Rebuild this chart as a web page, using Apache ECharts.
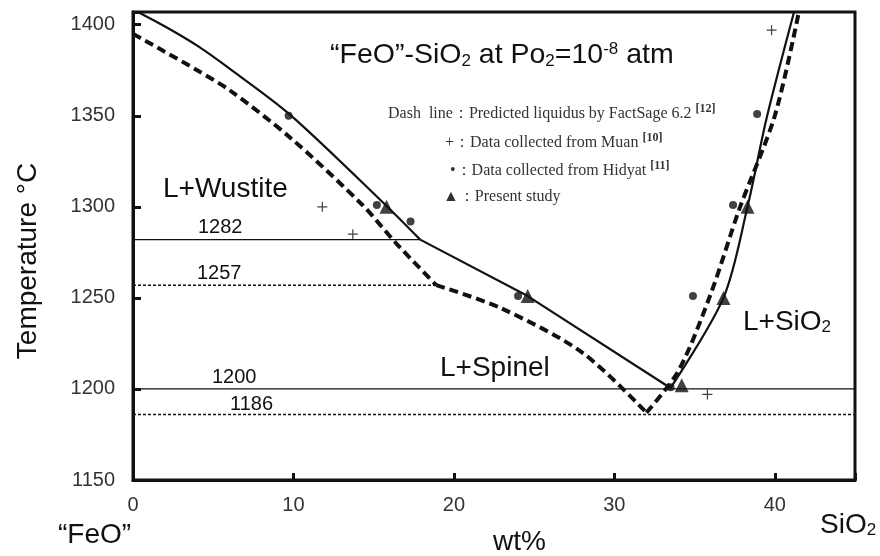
<!DOCTYPE html>
<html><head><meta charset="utf-8">
<script src="https://cdn.jsdelivr.net/npm/echarts@6/dist/echarts.min.js"></script>
<style>html,body{margin:0;padding:0;background:#fff}#c{width:880px;height:556px}</style>
</head><body><div id="c"></div>
<script>
// ---- data ----
const xTickLabels = [0, 10, 20, 30, 40];
const yTickLabels = [1150, 1200, 1250, 1300, 1350, 1400];
// solid liquidus (measured), by branch
const measuredWustite = [[0.3,1407],[2.0,1399],[4.0,1388.5],[6.0,1376],[9.8,1350.5],[15.8,1300.5],[17.9,1282]];
const measuredSpinel = [[17.9,1282],[24.6,1251],[33.5,1200.5]];
const measuredSilica = [[33.5,1200.5],[36.8,1250],[38.3,1300],[39.5,1349],[41.2,1407]];
// dashed liquidus (FactSage 6.2 prediction), by branch
const predictedWustite = [[0,1395],[1.9,1385.6],[4.0,1375],[6.0,1364.2],[9.8,1338],[14.3,1301],[16.4,1280],[18.9,1257]];
const predictedSpinel = [[18.9,1257],[22.9,1244.5],[28.0,1220],[32.0,1187]];
const predictedSilica = [[32.0,1187],[34.0,1210],[36.0,1252],[37.8,1299],[40.0,1350],[41.5,1407]];
// isotherms: [temperature, x end]
const measuredIsotherms = [[1282, 17.9], [1200, 45]];
const predictedIsotherms = [[1257, 18.9], [1186, 45]];
// experimental points
const muanData = [[11.8,1300],[13.7,1285],[35.8,1197],[39.8,1397]];
const hidyatData = [[9.7,1350],[15.2,1301],[17.3,1292],[24.0,1251],[33.5,1201],[34.9,1251],[37.4,1301],[38.9,1351]];
const presentData = [[15.8,1300],[24.6,1251],[34.2,1202],[36.8,1250],[38.3,1300]];

// ---- chart ----
const INK = '#111';
const SANS = 'Liberation Sans, Arial, sans-serif';
const SERIF = 'Liberation Serif, Times New Roman, serif';
const chart = echarts.init(document.getElementById('c'), null, {renderer: 'canvas'});

const series = [];
measuredIsotherms.forEach(([t, xe]) => series.push({
  type: 'line', data: [[0, t], [xe, t]], symbol: 'none', silent: true,
  lineStyle: {color: INK, width: 1.3}, z: 2
}));
predictedIsotherms.forEach(([t, xe]) => series.push({
  type: 'line', data: [[0, t], [xe, t]], symbol: 'none', silent: true,
  lineStyle: {color: INK, width: 1.5, type: [3, 2]}, z: 2
}));
[measuredWustite, measuredSpinel, measuredSilica].forEach((d, i) => series.push({
  type: 'line', data: d, symbol: 'none', smooth: i === 1 ? false : 0.3,
  lineStyle: {color: INK, width: 2.2}, z: 3
}));
[predictedWustite, predictedSpinel, predictedSilica].forEach((d) => series.push({
  type: 'line', data: d, symbol: 'none', smooth: 0.3,
  lineStyle: {color: INK, width: 4, type: [9, 5]}, z: 3
}));
series.push({type: 'scatter', data: muanData, symbol: 'path://M4.4,0h1.2v10h-1.2z M0,4.4h10v1.2h-10z', symbolSize: 10, itemStyle: {color: INK}, z: 5});
series.push({type: 'scatter', data: hidyatData, symbol: 'circle', symbolSize: 8, itemStyle: {color: INK}, z: 5});
series.push({type: 'scatter', data: presentData, symbol: 'triangle', symbolSize: 14, itemStyle: {color: INK}, z: 6});

const rich = {
  sub: {fontSize: 17, fontFamily: SANS, verticalAlign: 'bottom', fill: INK},
  sup: {fontSize: 17, fontFamily: SANS, verticalAlign: 'top', fill: INK}
};
const refRich = {sup: {fontSize: 12, fontWeight: 'bold', fontFamily: SERIF, verticalAlign: 'top', padding: [0, 0, 10, 0], fill: '#333'}};

function txt(x, y, text, size, extra) {
  return Object.assign({type: 'text', x: x, y: y, z: 100, silent: true,
    style: Object.assign({text: text, fontSize: size, fontFamily: SANS, fill: INK, align: 'left', verticalAlign: 'middle', rich: rich}, extra || {})});
}
function ref(x, y, text) {
  return {type: 'text', x: x, y: y, z: 100, silent: true,
    style: {text: text, fontSize: 16, fontFamily: SERIF, fill: '#333', align: 'left', verticalAlign: 'middle', rich: refRich}};
}

const graphics = [
  txt(330, 55, '“FeO”-SiO{sub|2} at Po{sub|2}=10{sup|-8} atm', 28.5),
  ref(388, 114, 'Dash  line：Predicted liquidus by FactSage 6.2 {sup|[12]}'),
  ref(445, 143, '+：Data collected from Muan {sup|[10]}'),
  ref(450, 171, '•：Data collected from Hidyat {sup|[11]}'),
  ref(443, 197, '▲：Present study'),
  txt(163, 189, 'L+Wustite', 28),
  txt(440, 368, 'L+Spinel', 28),
  txt(743, 322, 'L+SiO{sub|2}', 28),
  txt(198, 227, String(measuredIsotherms[0][0]), 20),
  txt(197, 273, String(predictedIsotherms[0][0]), 20),
  txt(212, 377, String(measuredIsotherms[1][0]), 20),
  txt(230, 404, String(predictedIsotherms[1][0]), 20),
  txt(58, 535, '“FeO”', 28),
  txt(493, 542, 'wt%', 28),
  txt(820, 525, 'SiO{sub|2}', 28),
  {type: 'text', x: 28, y: 261, rotation: Math.PI / 2, z: 100, silent: true,
   style: {text: 'Temperature °C', fontSize: 28, fontFamily: SANS, fill: INK, align: 'center', verticalAlign: 'middle'}}
];

chart.setOption({
  animation: false,
  backgroundColor: '#fff',
  grid: {left: 133, right: 25, top: 12, bottom: 76, show: true, borderColor: INK, borderWidth: 3, containLabel: false},
  xAxis: {
    type: 'value', min: 0, max: 45, interval: 10,
    axisLine: {show: true, onZero: false, lineStyle: {color: INK, width: 3}},
    axisTick: {show: true, inside: true, length: 7, lineStyle: {color: INK, width: 3}},
    axisLabel: {fontSize: 20, fontFamily: SANS, color: '#333', margin: 15,
      formatter: v => xTickLabels.includes(v) ? String(v) : ''},
    splitLine: {show: false}
  },
  yAxis: {
    type: 'value', min: 1150, max: 1407, interval: 50,
    axisLine: {show: true, lineStyle: {color: INK, width: 3}},
    axisTick: {show: true, inside: true, length: 8, lineStyle: {color: INK, width: 3}},
    axisLabel: {fontSize: 20, fontFamily: SANS, color: '#333', margin: 18,
      formatter: v => yTickLabels.includes(v) ? String(v) : ''},
    splitLine: {show: false}
  },
  series: series,
  graphic: graphics
});
</script></body></html>
